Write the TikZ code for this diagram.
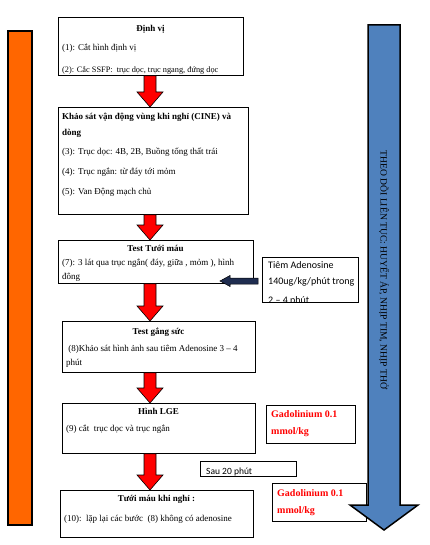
\documentclass[tikz,border=0pt]{standalone}
\usepackage{fontspec}
\setmainfont{Liberation Serif}
\newfontfamily\calib{Carlito}
\usetikzlibrary{calc}
\definecolor{orangebar}{RGB}{255,102,0}
\definecolor{bluearr}{RGB}{79,129,189}
\definecolor{navyarr}{RGB}{31,45,80}
\begin{document}
\begin{tikzpicture}[x=1pt,y=-1pt,
  boxnode/.style={draw=black, line width=0.9pt, anchor=north west, inner sep=0pt, fill=white},
  txt/.style={anchor=base west, inner sep=0pt, font=\fontsize{9}{10}\selectfont},
  ttl/.style={anchor=base, inner sep=0pt, font=\fontsize{9}{10}\selectfont\bfseries},
  sidetxt/.style={anchor=base west, inner sep=0pt, font=\calib\fontsize{10}{11}\selectfont},
  gadtxt/.style={anchor=base west, inner sep=0pt, text=red, font=\fontsize{10}{11}\selectfont\bfseries},
  redarr/.style={fill=red, draw=black, line width=0.6pt},
]
\useasboundingbox (0,0) rectangle (429,545);

% orange bar
\path[fill=orangebar, draw=black, line width=1.5pt] (8,31) rectangle (32,525);

% boxes
\node[boxnode, minimum width=185pt, minimum height=58pt] (b1) at (58,17) {};
\node[boxnode, minimum width=190pt, minimum height=107pt] (b2) at (58,107) {};
\node[boxnode, minimum width=195pt, minimum height=43pt] (b3) at (58,240) {};
\node[boxnode, minimum width=193pt, minimum height=51pt] (b4) at (62,321) {};
\node[boxnode, minimum width=193pt, minimum height=50pt] (b5) at (62,403) {};
\node[boxnode, minimum width=193pt, minimum height=47pt] (b6) at (60,490) {};
\node[boxnode, minimum width=96pt, minimum height=45pt] (tiem) at (262,257) {};
\node[boxnode, minimum width=89pt, minimum height=38pt] (gad1) at (266,405) {};
\node[boxnode, minimum width=96pt, minimum height=15pt] (sau) at (200,461) {};
\node[boxnode, minimum width=94pt, minimum height=38pt] (gad2) at (272,483) {};

% box 1 text
\begin{scope}
\clip (58.5,17.5) rectangle (242.5,74.5);
\node[ttl] (t1a) at (150.5,32) {Định vị};
\node[txt] (t1b) at (62,51) {(1): Cắt hình định vị};
\node[txt, font=\fontsize{8.3}{10}\selectfont] (t1c) at (62,73) {(2): Cắc SSFP:\ \ trục dọc, trục ngang, đứng dọc};
\end{scope}

% box 2 text
\node[txt, font=\fontsize{9}{10}\selectfont\bfseries] (t2a) at (62,120) {Khảo sát vận động vùng khi nghỉ (CINE) và};
\node[txt, font=\fontsize{9}{10}\selectfont\bfseries] (t2b) at (62,136) {dòng};
\node[txt] (t2c) at (62,155) {(3): Trục dọc: 4B, 2B, Buồng tống thất trái};
\node[txt] (t2d) at (62,175) {(4): Trục ngắn: từ đáy tới mỏm};
\node[txt] (t2e) at (62,194) {(5): Van Động mạch chủ};

% box 3 text
\node[ttl] (t3a) at (155.5,251) {Test Tưới máu};
\node[txt] (t3b) at (62,265) {(7): 3 lát qua trục ngắn( đáy, giữa , mỏm ), hình};
\node[txt] (t3c) at (62,279) {đông};

% box 4 text
\node[ttl] (t4a) at (158.5,334) {Test gắng sức};
\node[txt] (t4b) at (66,351) {\ (8)Khảo sát hình ảnh sau tiêm Adenosine 3 – 4};
\node[txt] (t4c) at (66,365) {phút};

% box 5 text
\node[ttl] (t5a) at (158.5,414) {Hình LGE};
\node[txt] (t5b) at (66,431) {(9) cắt\ \ trục dọc và trục ngắn};

% box 6 text
\node[ttl] (t6a) at (156.5,501) {Tưới máu khi nghỉ :};
\node[txt] (t6b) at (64,521) {(10):\ \ lặp lại các bước\ \ (8) không có adenosine};

% side boxes text
\begin{scope}
\clip (262.5,257.5) rectangle (357.5,301.5);
\node[sidetxt] (s1) at (268,268) {Tiêm Adenosine};
\node[sidetxt] (s2) at (268,284) {140ug/kg/phút trong};
\node[sidetxt] (s3) at (268,303) {2 – 4 phút};
\end{scope}
\node[gadtxt] (g1a) at (271,417) {Gadolinium 0.1};
\node[gadtxt] (g1b) at (271,434) {mmol/kg};
\node[gadtxt] (g2a) at (277,496) {Gadolinium 0.1};
\node[gadtxt] (g2b) at (277,513) {mmol/kg};
\begin{scope}
\clip (200.5,461.5) rectangle (295.5,475.5);
\node[sidetxt, font=\calib\fontsize{9.5}{10}\selectfont] (s4) at (206,474) {Sau 20 phút};
\end{scope}

% red block arrows between boxes
\coordinate (xc) at (150,0);
\foreach \a/\b in {b1/b2,b2/b3,b3/b4,b4/b5,b5/b6}{
  \path let \p1=(\a.south), \p2=(\b.north), \p3=(xc) in
    [redarr] (\x3-6,\y1) -- (\x3+6,\y1) -- (\x3+6,\y2+15) -- (\x3+13,\y2+15)
    -- (\x3,\y2) -- (\x3-13,\y2+15) -- (\x3-6,\y2+15) -- cycle;
}

% dark arrow from Tiem box pointing left
\coordinate (darrend) at (220,281);
\path let \p1=(tiem.west), \p2=(darrend) in
  [fill=navyarr, draw=black, line width=0.5pt]
  (\x1-4,\y2-3) -- (\x2+10,\y2-3) -- (\x2+10,\y2-5.5) -- (\x2,\y2)
  -- (\x2+10,\y2+5.5) -- (\x2+10,\y2+3) -- (\x1-4,\y2+3) -- cycle;

% blue arrow
\path[fill=bluearr, draw=black, line width=1.5pt]
  (368,25) -- (400,25) -- (400,505) -- (418,505) -- (384,530) -- (350,505) -- (368,505) -- cycle;
\node[rotate=-90, inner sep=0pt, font=\fontsize{9.6}{11}\selectfont] (vt) at (384,270)
  {THEO DÕI LIÊN TỤC: HUYẾT ÁP, NHỊP TIM, NHỊP THỞ};
\end{tikzpicture}
\end{document}
